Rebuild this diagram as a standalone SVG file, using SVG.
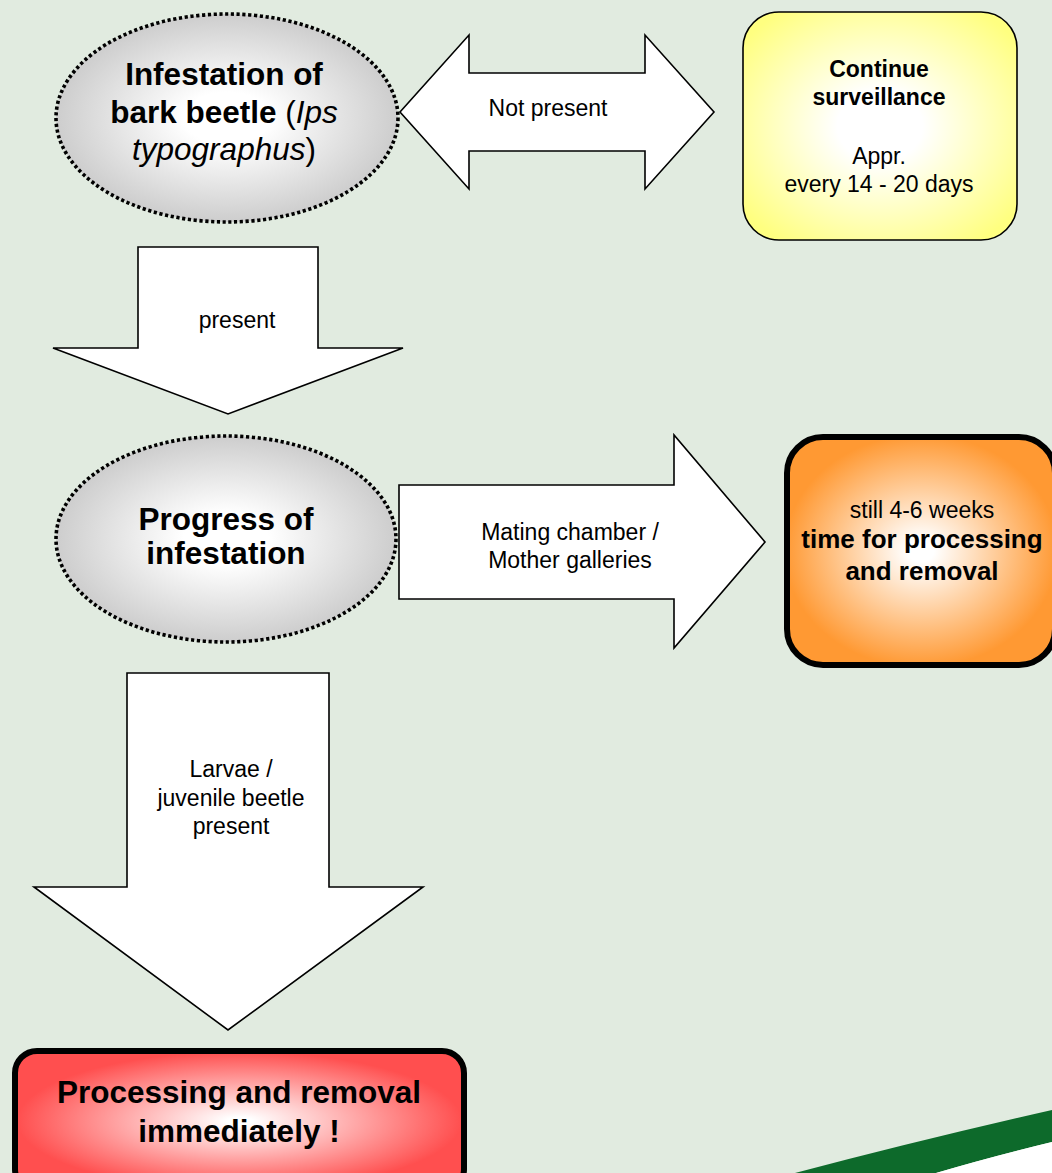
<svg xmlns="http://www.w3.org/2000/svg" width="1052" height="1173" viewBox="0 0 1052 1173">
<defs>
<radialGradient id="gEll" cx="0.5" cy="0.5" r="0.5">
<stop offset="0.25" stop-color="#ffffff"/>
<stop offset="1" stop-color="#cdcdcd"/>
</radialGradient>
<radialGradient id="gYel" cx="0.5" cy="0.5" r="0.62">
<stop offset="0.25" stop-color="#ffffff"/>
<stop offset="1" stop-color="#ffff80"/>
</radialGradient>
<radialGradient id="gOra" cx="0.5" cy="0.5" r="0.6">
<stop offset="0.08" stop-color="#ffffff"/>
<stop offset="0.85" stop-color="#ff9933"/>
</radialGradient>
<radialGradient id="gRed" cx="0.5" cy="0.5" r="0.55">
<stop offset="0.05" stop-color="#ffffff"/>
<stop offset="0.9" stop-color="#ff4f4f"/>
</radialGradient>
</defs>
<style>
text{font-family:"Liberation Sans",Arial,sans-serif;fill:#000;text-anchor:middle}
.r{font-size:23px}
.b{font-size:23px;font-weight:bold}
.bb{font-size:31.5px;font-weight:bold}
.ob{font-size:26px;font-weight:bold}
.ell{fill:url(#gEll);stroke:#000;stroke-width:3.6;stroke-dasharray:3.2 2.6}
.arr{fill:#fff;stroke:#000;stroke-width:1.6;stroke-linejoin:miter}
</style>
<rect x="0" y="0" width="1052" height="1173" fill="#e1ebe0"/>
<path d="M795 1173 Q920 1140 1052 1110 L1052 1142 Q990 1157 936 1173 Z" fill="#0d6a2b"/>
<path d="M936 1173 Q990 1157 1052 1142 L1052 1173 Z" fill="#ffffff"/>

<g id="connectors">
<g id="arrow-not-present">
<polygon class="arr" points="400,112 469,35 469,73 645,73 645,35 714,112 645,189 645,151 469,151 469,189"/>
<text class="r" x="548" y="116">Not present</text>
</g>
<g id="arrow-present">
<polygon class="arr" points="138,247 318,247 318,348 403,348 228,414 53,348 138,348"/>
<text class="r" x="237" y="328">present</text>
</g>
<g id="arrow-mating">
<polygon class="arr" points="399,485 674,485 674,435 765,542 674,648 674,599 399,599"/>
<text class="r" x="570" y="540">Mating chamber /</text>
<text class="r" x="570" y="568">Mother galleries</text>
</g>
<g id="arrow-larvae">
<polygon class="arr" points="127,673 329,673 329,887 423,887 228,1030 34,887 127,887"/>
<text class="r" x="231" y="777">Larvae /</text>
<text class="r" x="231" y="806">juvenile beetle</text>
<text class="r" x="231" y="834">present</text>
</g>
</g>

<g id="node-infestation">
<ellipse class="ell" cx="227" cy="118" rx="171" ry="104"/>
<text class="bb" x="224" y="85">Infestation of</text>
<text x="224" y="123" style="font-size:31.5px"><tspan font-weight="bold">bark beetle</tspan> (<tspan font-style="italic">Ips</tspan></text>
<text x="224" y="160" style="font-size:31.5px"><tspan font-style="italic">typographus</tspan>)</text>
</g>

<g id="node-surveillance">
<rect x="743" y="12" width="274" height="228" rx="36" ry="36" fill="url(#gYel)" stroke="#000" stroke-width="1.6"/>
<text class="b" x="879" y="77">Continue</text>
<text class="b" x="879" y="105">surveillance</text>
<text class="r" x="879" y="164">Appr.</text>
<text class="r" x="879" y="192">every 14 - 20 days</text>
</g>

<g id="node-progress">
<ellipse class="ell" cx="226" cy="539" rx="170" ry="103"/>
<text class="bb" x="226" y="530">Progress of</text>
<text class="bb" x="226" y="564">infestation</text>
</g>

<g id="node-time">
<rect x="787" y="437" width="268" height="228" rx="36" ry="36" fill="url(#gOra)" stroke="#000" stroke-width="6"/>
<text class="r" x="922" y="518">still 4-6 weeks</text>
<text class="ob" x="922" y="548">time for processing</text>
<text class="ob" x="922" y="580">and removal</text>
</g>

<g id="node-immediately">
<rect x="15" y="1051" width="449" height="140" rx="22" ry="22" fill="url(#gRed)" stroke="#000" stroke-width="6"/>
<text class="bb" x="239" y="1103">Processing and removal</text>
<text class="bb" x="239" y="1142">immediately !</text>
</g>
</svg>
